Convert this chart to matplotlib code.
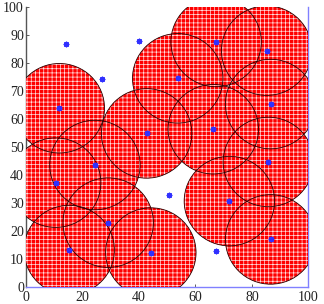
import matplotlib.pyplot as plt
from matplotlib.patches import Circle

plt.rcParams['font.family'] = ['Liberation Serif', 'DejaVu Serif']
plt.rcParams['hatch.linewidth'] = 0.5

# sensor nodes that are awake (drawn with a coverage disc)
active_x = [11.8, 42.7, 53.7, 67.3, 85.2, 86.6, 66.3, 85.8, 72.0, 86.6,
            24.4, 10.5, 29.1, 15.3, 44.2]
active_y = [63.8, 54.8, 74.5, 87.5, 84.4, 65.3, 56.3, 44.6, 30.6, 16.9,
            43.5, 37.2, 22.9, 13.1, 12.2]
# sleeping nodes (no disc)
idle_x = [14.2, 26.8, 40.0, 50.7, 67.2]
idle_y = [86.9, 74.3, 87.8, 32.7, 12.9]
sensing_radius = 16

xticks = [0, 20, 40, 60, 80, 100]
yticks = [0, 10, 20, 30, 40, 50, 60, 70, 80, 90, 100]

fig = plt.figure(figsize=(3.24, 3.04), dpi=100)
ax = fig.add_axes([0.0802, 0.0569, 0.8719, 0.9201])

# filled discs first, then all outlines on top
for x, y in zip(active_x, active_y):
    ax.add_patch(Circle((x, y), sensing_radius, facecolor='red',
                        edgecolor='#ffe0e0', hatch='++++', linewidth=0, zorder=3))
for x, y in zip(active_x, active_y):
    ax.add_patch(Circle((x, y), sensing_radius, fill=False,
                        edgecolor='#2a0000', linewidth=0.6, zorder=4))

ax.plot(active_x + idle_x, active_y + idle_y, linestyle='none',
        marker=(8, 2, 0), markersize=4, mew=0.9, color='#3030ff', zorder=5)

ax.set_xlim(0, 100)
ax.set_ylim(0, 100)
ax.set_xticks(xticks)
ax.set_yticks(yticks)
ax.tick_params(direction='in', length=2, width=0.6, labelsize=10,
               labelcolor='#222222', color='#444444')
ax.tick_params(axis='x', pad=3)
ax.tick_params(axis='y', pad=1.5)

ax.spines['top'].set_visible(False)
ax.spines['left'].set_color('#555555')
ax.spines['bottom'].set_color('#8080ff')
ax.spines['right'].set_color('#8080ff')
for s in ax.spines.values():
    s.set_linewidth(1.0)

fig.savefig('out.png', dpi=100)
